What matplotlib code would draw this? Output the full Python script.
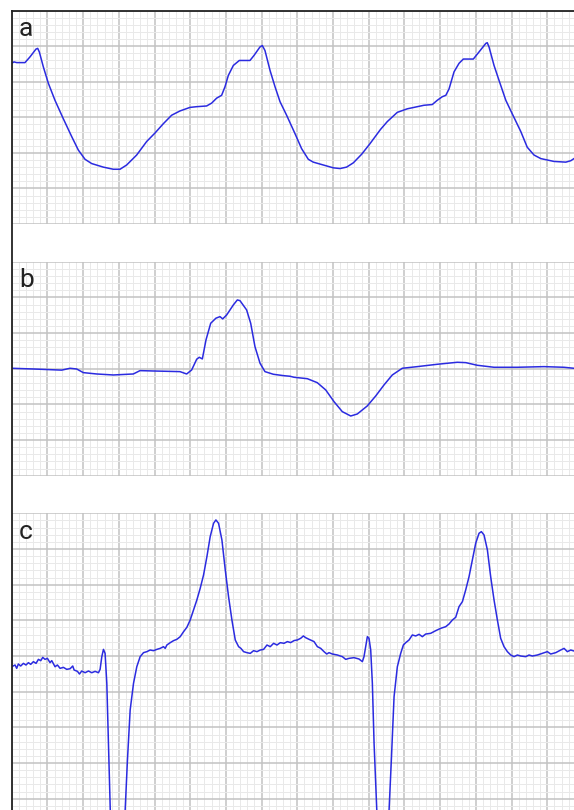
import matplotlib
matplotlib.use('Agg')
import matplotlib.pyplot as plt
import numpy as np
from matplotlib.lines import Line2D

# Traces, in small-grid units (1 small box = 1 mm)
a_t = [0, 0.32, 0.7, 1.86, 2.56, 3.4, 3.64, 3.87, 4.43, 5.13, 6.06, 7.23, 8.4, 9.33,
       10.27, 11.2, 12.83, 14.23, 15.17, 16.1, 17.5, 18.9, 20.07, 21.23, 22.4, 23.57,
       24.97, 25.9, 27.3, 28.0, 28.7, 29.4, 29.87, 30.34, 31.04, 31.88, 33.37, 33.93,
       34.77, 35.1, 35.47, 36.18, 36.88, 37.58, 38.5, 39.68, 40.6, 41.54, 42.24, 43.64,
       45.04, 45.98, 46.9, 47.84, 49.0, 50.18, 51.65, 52.6, 54.0, 55.4, 57.74, 58.9,
       59.6, 60.3, 60.8, 61.25, 61.95, 62.65, 63.25, 64.65, 65.45, 66.4, 66.6, 66.85,
       67.55, 68.25, 69.2, 70.1, 71.3, 72.2, 73.15, 74.1, 75.94, 77.6, 78.3, 78.75]
a_v = [22.6, 22.8, 22.7, 22.7, 23.5, 24.6, 24.7, 24.2, 22.1, 19.8, 17.4, 14.8, 12.3, 10.4,
       9.1, 8.5, 8.0, 7.7, 7.7, 8.3, 9.7, 11.6, 12.8, 14.1, 15.3, 15.9,
       16.4, 16.5, 16.6, 17.0, 17.7, 18.1, 19.3, 20.9, 22.3, 23.0, 23.0, 23.7,
       24.9, 25.1, 24.4, 21.6, 19.3, 17.2, 15.3, 12.7, 10.6, 9.1, 8.7, 8.3,
       7.9, 7.8, 8.0, 8.6, 9.8, 11.3, 13.3, 14.4, 15.7, 16.2, 16.7, 16.8,
       17.4, 17.9, 18.1, 19.0, 21.4, 22.6, 23.2, 23.2, 24.2, 25.4, 25.5, 24.9,
       22.3, 20.2, 17.4, 15.5, 13.0, 10.8, 9.7, 9.2, 8.8, 8.7, 8.9, 9.2]

b_t = [0, 3.03, 7.0, 8.17, 9.1, 10.03, 11.9, 14.23, 17.03, 17.97, 19.83, 23.57, 24.5,
       25.2, 25.91, 26.27, 26.7, 27.21, 27.87, 28.6, 29.17, 29.55, 30.11, 31.04, 31.6,
       31.97, 32.9, 33.47, 34.07, 34.78, 35.47, 36.64, 38.04, 38.98, 39.54, 41.4, 42.8,
       43.98, 45.14, 46.3, 47.48, 48.4, 49.8, 50.98, 52.14, 53.3, 54.7, 56.8, 59.6,
       62.4, 63.6, 65.2, 67.55, 70.8, 74.55, 77.35, 78.75]
b_v = [15.06, 14.96, 14.8, 15.06, 14.96, 14.45, 14.26, 14.12, 14.26, 14.73, 14.68, 14.59, 14.26,
       14.82, 16.33, 16.6, 16.37, 19.03, 21.37, 22.08, 22.3, 21.98, 22.54, 23.94, 24.64,
       24.54, 23.24, 21.37, 18.09, 15.76, 14.59, 14.22, 14.03, 13.94, 13.8, 13.6, 13.04,
       12.02, 10.38, 8.98, 8.37, 8.65, 9.78, 11.18, 12.72, 14.12, 15.06, 15.29, 15.62,
       15.9, 15.85, 15.48, 15.2, 15.2, 15.29, 15.2, 15.06]

c_t = [0, 0.47, 0.7, 0.93, 1.26, 1.64, 2.0, 2.34, 2.66, 3.04, 3.41, 3.74, 4.07, 4.35,
       4.67, 5.0, 5.37, 5.61, 6.07, 6.4, 6.78, 7.24, 7.71, 8.18, 8.55, 8.74, 9.21, 9.49,
       9.81, 10.28, 10.75, 11.21, 11.68, 12.15, 12.38, 12.62, 12.85, 13.08, 13.32, 13.55,
       13.79, 14.8, 15.89, 16.21, 16.59, 17.06, 17.52, 17.99, 18.46, 18.93, 19.39, 19.86,
       20.33, 20.79, 21.26, 21.5, 21.73, 22.2, 22.66, 23.13, 23.6, 24.07, 24.53, 25.0,
       25.47, 25.93, 26.4, 26.87, 27.34, 27.8, 28.27, 28.6, 28.97, 29.44, 29.91, 30.37,
       30.84, 31.31, 31.78, 32.1, 32.48, 32.94, 33.41, 33.88, 34.35, 34.81, 35.28, 35.75,
       36.21, 36.68, 37.15, 37.62, 38.14, 38.61, 39.07, 39.54, 40.01, 40.47, 40.85, 41.17,
       41.64, 42.34, 42.81, 43.28, 43.74, 44.12, 44.44, 44.91, 45.61, 46.31, 46.78, 47.24,
       47.94, 48.64, 49.11, 49.34, 49.81, 50.04, 50.28, 50.51, 50.75, 51.12, 52.0, 52.85,
       53.17, 53.55, 54.01, 54.48, 54.85, 55.18, 55.65, 56.11, 56.58, 57.05, 57.51, 57.98,
       58.68, 59.38, 60.08, 60.78, 61.25, 61.72, 62.18, 62.65, 63.12, 63.58, 64.05, 64.52,
       64.98, 65.45, 65.78, 66.15, 66.62, 67.08, 67.55, 68.02, 68.48, 68.95, 69.42, 69.89,
       70.35, 70.82, 71.29, 71.99, 72.45, 72.92, 73.62, 74.32, 75.02, 75.49, 76.19, 76.89,
       77.36, 77.82, 78.29, 78.76]
c_v = [18.5, 18.74, 18.27, 18.88, 18.6, 18.97, 18.74, 19.07, 18.83, 19.21, 18.97, 19.53, 19.35, 19.81,
       19.53, 19.67, 19.07, 19.35, 18.5, 18.74, 18.27, 18.41, 18.13, 18.22, 18.6, 18.04, 17.85, 17.48,
       17.9, 17.66, 17.9, 17.66, 17.85, 17.66, 18.13, 19.91, 20.93, 20.37, 16.17, 7.76,
       -1.59, -9.0, -1.59, 5.42, 12.43, 16.17, 18.5, 19.91, 20.47, 20.61, 20.84, 20.75,
       20.93, 21.07, 21.31, 21.07, 21.54, 21.87, 22.15, 22.34, 22.71, 23.41, 24.02, 25.05,
       26.45, 27.85, 29.49, 31.36, 33.93, 36.73, 38.6, 39.07, 38.6, 36.26, 32.06, 28.32,
       25.05, 22.24, 21.31, 21.07, 20.61, 20.47, 20.37, 20.75, 20.61, 20.84, 20.93, 21.54,
       21.31, 21.78, 21.54, 21.87, 21.78, 22.02, 21.88, 22.16, 22.25, 22.48, 22.81, 22.57,
       22.34, 22.02, 21.31, 21.07, 20.61, 20.28, 20.47, 20.28, 20.14, 19.91, 19.53, 19.67,
       19.77, 19.58, 19.21, 19.91, 22.71, 22.48, 20.84, 16.17, 7.76, -1.59, -9.0, -1.59,
       5.42, 14.3, 18.5, 20.37, 21.54, 21.87, 22.25, 22.95, 22.81, 23.04, 22.71, 23.08,
       23.18, 23.55, 23.88, 24.11, 24.49, 25.05, 25.42, 26.92, 27.62, 29.25, 31.12, 33.46,
       35.79, 37.2, 37.43, 36.96, 34.87, 31.12, 27.86, 25.05, 22.48, 21.31, 20.61, 20.14,
       19.91, 20.14, 20.0, 19.91, 20.14, 20.0, 20.14, 20.37, 20.61, 20.28, 20.47, 20.84,
       21.07, 20.61, 20.84, 20.7]

W, H = 574, 810
fig = plt.figure(figsize=(W / 100, H / 100), dpi=100)
fig.patch.set_facecolor('white')

left = 11.7
# (top px, bottom px, ylim)
panels = [
    ('a', a_t, a_v, 10.7, 224.0, (0, 30)),
    ('b', b_t, b_v, 261.7, 475.7, (0, 30)),
    ('c', c_t, c_v, 513.3, 810.0, (-1.58, 40.0)),
]

for label, t, v, top, bot, ylim in panels:
    ax = fig.add_axes([left / W, (H - bot) / H, (W - left) / W, (bot - top) / H])
    ax.set_xticks(np.arange(0, 80, 5))
    ax.set_xticks(np.arange(0, 80, 1), minor=True)
    ax.set_yticks(np.arange(0, 45, 5))
    ax.set_yticks(np.arange(-5, 45, 1), minor=True)
    ax.set_xlim(0, 78.75)
    ax.set_ylim(*ylim)
    ax.grid(which='minor', color='#e9e9e9', lw=0.7)
    ax.grid(which='major', color='#c2c2c2', lw=1.1)
    ax.tick_params(which='both', length=0, labelbottom=False, labelleft=False)
    for s in ax.spines.values():
        s.set_visible(False)
    ax.set_axisbelow(True)
    ax.plot(t, v, color='#2b2be0', lw=1.1)
    fig.text(19 / W, 1 - (top + 25.5) / H, label, fontsize=19, family='Roboto',
             color='#222222', va='baseline', ha='left')

# outer frame lines: left edge and top edge
fig.add_artist(Line2D([left / W, left / W], [0, 1 - 10.7 / H], color='#222222', lw=1.3))
fig.add_artist(Line2D([left / W, 1], [1 - 10.7 / H, 1 - 10.7 / H], color='#222222', lw=1.3))

fig.savefig('out.png', dpi=100)
